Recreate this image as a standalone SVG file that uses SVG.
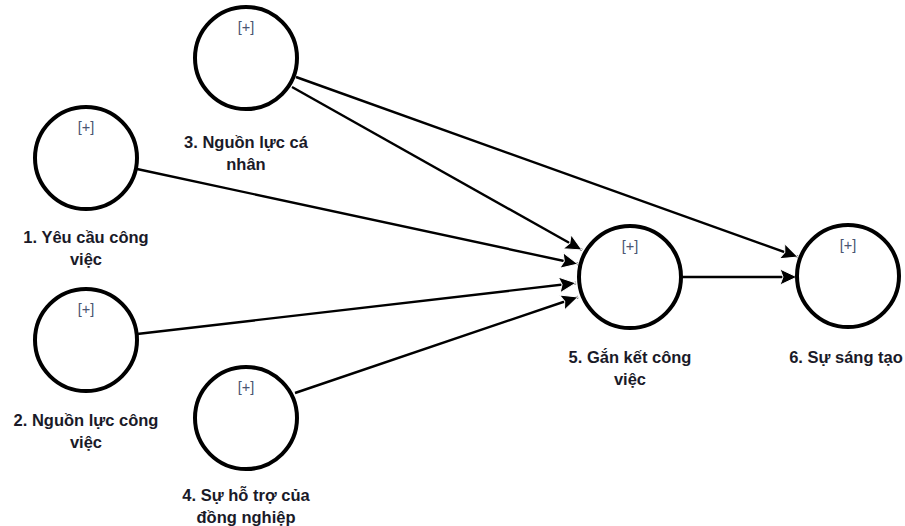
<svg xmlns="http://www.w3.org/2000/svg" width="905" height="526" viewBox="0 0 905 526">
<style>
.n{fill:#fff;stroke:#000;stroke-width:4}
.p{font-family:"Liberation Sans",Arial,sans-serif;font-size:14.5px;fill:#4a5672;text-anchor:middle}
.l{font-family:"Liberation Sans",Arial,sans-serif;font-size:16.5px;font-weight:bold;fill:#1a1a28;text-anchor:middle}
.c{stroke:#000;stroke-width:2.4;fill:none;marker-end:url(#a)}
</style>
<defs>
<marker id="a" markerUnits="userSpaceOnUse" markerWidth="20" markerHeight="18" refX="17" refY="8" orient="auto" viewBox="-1 -1 20 18">
<path d="M0,0 L17,8 L0,16 L3,8 z" fill="#000" stroke="#fff" stroke-width="1"/>
</marker>
</defs>
<rect width="905" height="526" fill="#fff"/>
<g id="connectors">
<line class="c" x1="137" y1="169" x2="578" y2="264"/>
<line class="c" x1="137" y1="334" x2="576" y2="283"/>
<line class="c" x1="292" y1="87" x2="582" y2="250"/>
<line class="c" x1="296" y1="77" x2="798" y2="257"/>
<line class="c" x1="295" y1="393" x2="578" y2="297"/>
<line class="c" x1="681" y1="277" x2="797" y2="277"/>
</g>
<g id="n1"><circle class="n" cx="86" cy="158" r="51"/><text class="p" x="86" y="132">[+]</text><text class="l" x="86" y="243">1. Yêu cầu công</text><text class="l" x="86" y="265">việc</text></g>
<g id="n2"><circle class="n" cx="86" cy="340" r="51"/><text class="p" x="86" y="314">[+]</text><text class="l" x="86" y="426">2. Nguồn lực công</text><text class="l" x="86" y="448">việc</text></g>
<g id="n3"><circle class="n" cx="246" cy="58" r="51"/><text class="p" x="246" y="32">[+]</text><text class="l" x="246" y="148">3. Nguồn lực cá</text><text class="l" x="246" y="170">nhân</text></g>
<g id="n4"><circle class="n" cx="246" cy="418" r="51"/><text class="p" x="246" y="392">[+]</text><text class="l" x="246" y="501">4. Sự hỗ trợ của</text><text class="l" x="246" y="523">đồng nghiệp</text></g>
<g id="n5"><circle class="n" cx="630" cy="277" r="51"/><text class="p" x="630" y="251">[+]</text><text class="l" x="630" y="363">5. Gắn kết công</text><text class="l" x="630" y="385">việc</text></g>
<g id="n6"><circle class="n" cx="848" cy="276" r="51"/><text class="p" x="848" y="250">[+]</text><text class="l" x="846" y="363">6. Sự sáng tạo</text></g>
</svg>
